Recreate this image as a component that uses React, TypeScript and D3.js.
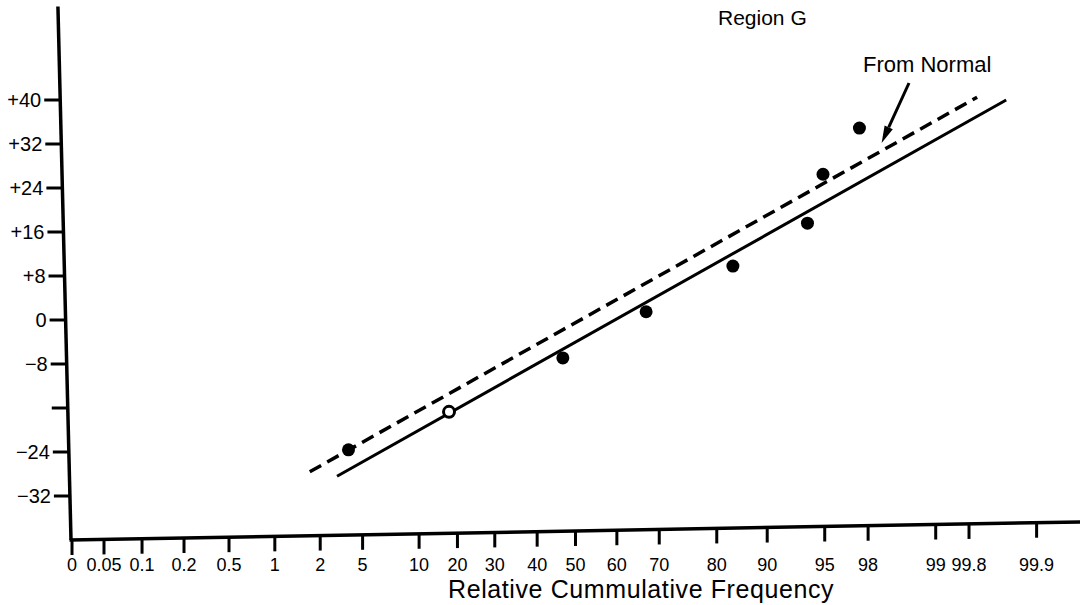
import React from 'react';
import * as d3 from 'd3';

// x axis: probability paper graduation (labels, values, position along the printed axis in % of its length)
const xTickLabels = ['0', '0.05', '0.1', '0.2', '0.5', '1', '2', '5', '10', '20', '30', '40', '50', '60', '70', '80', '90', '95', '98', '99', '99.8', '99.9'];
const xTickValues = [0, 0.05, 0.1, 0.2, 0.5, 1, 2, 5, 10, 20, 30, 40, 50, 60, 70, 80, 90, 95, 98, 99, 99.8, 99.9];
const xPaperUnits = [0.1, 3.27, 7.04, 11.2, 15.66, 20.2, 24.7, 28.9, 34.5, 38.3, 42.0, 46.2, 50.0, 54.1, 58.3, 64.0, 69.0, 74.7, 79.0, 85.7, 89.0, 95.7];

// y axis
const yTickValues = [40, 32, 24, 16, 8, 0, -8, -16, -24, -32];
const yTickLabels = ['+40', '+32', '+24', '+16', '+8', '0', '\u22128', '', '\u221224', '\u221232'];
const yMin = -40;
const yMax = 57;

// observed points (relative cumulative frequency %, value)
const filledP = [4.0, 46.7, 66.9, 83.2, 93.5, 94.85, 97.4];
const filledV = [-23.6, -6.9, 1.5, 9.8, 17.6, 26.5, 34.9];
const openP = [17.8];
const openV = [-16.7];

// fitted line (solid) and line "From Normal" (dashed)
const fitP = [3.19, 99.855];
const fitV = [-28.4, 40.0];
const normalP = [1.77, 99.812];
const normalV = [-27.6, 40.5];

// annotation arrow tip
const arrowTip = { p: 98.2, v: 32.2 };

const W = 1087;
const H = 605;
const originX = 71;
const axisRight = 1080;
const yLean = 0.0245; // hand-drawn axis lean
const xLean = 0.0179;
const font = '"Liberation Sans", Arial, sans-serif';

const App: React.FC = () => {
  const paper = d3.scaleLinear().domain(xTickValues).range(xPaperUnits);
  const paperPx = d3.scaleLinear().domain([0, 100]).range([originX, axisRight]);
  const x = (p: number) => paperPx(paper(p));
  const y = d3.scaleLinear().domain([-40, 40]).range([540, 100]);

  const y0 = y(yMin);
  const yAxisX = (py: number) => originX - (y0 - py) * yLean;
  const xAxisY = (px: number) => y0 - (px - originX) * xLean;

  const line = d3.line<[number, number]>().x(d => x(d[0])).y(d => y(d[1]));
  const fitPath = line(fitP.map((p, i) => [p, fitV[i]]));
  const normalPath = line(normalP.map((p, i) => [p, normalV[i]]));

  // arrow geometry
  const tipX = x(arrowTip.p);
  const tipY = y(arrowTip.v);
  const labelX = 863;
  const labelY = 72;
  const tailX = labelX + 46;
  const tailY = labelY + 11;
  const ang = Math.atan2(tipY - tailY, tipX - tailX);
  const headLen = 17;
  const headW = 4.5;
  const bx = tipX - headLen * Math.cos(ang);
  const by = tipY - headLen * Math.sin(ang);
  const head = [
    [tipX, tipY],
    [bx + headW * Math.sin(ang), by - headW * Math.cos(ang)],
    [bx - headW * Math.sin(ang), by + headW * Math.cos(ang)],
  ].map(d => d.join(',')).join(' ');

  return (
    <svg width={W} height={H} style={{ position: 'absolute', left: 0, top: 0, background: '#fff' }} fontFamily={font}>
      <rect width={W} height={H} fill="#fff" />

      {/* y axis */}
      <line x1={originX} y1={y0} x2={yAxisX(y(yMax))} y2={y(yMax)} stroke="#000" strokeWidth={3.5} />
      {yTickValues.map((v, i) => {
        const ty = y(v);
        const ax = yAxisX(ty);
        return (
          <g key={`yt${i}`}>
            <line x1={ax - 16} y1={ty} x2={ax} y2={ty} stroke="#000" strokeWidth={3} />
            <text x={ax - 19} y={ty} dy="0.36em" textAnchor="end" fontSize={20} fill="#000">{yTickLabels[i]}</text>
          </g>
        );
      })}

      {/* x axis */}
      <line x1={originX - 1.5} y1={y0} x2={axisRight} y2={xAxisY(axisRight)} stroke="#000" strokeWidth={3.5} />
      {xTickValues.map((v, i) => {
        const tx = x(v);
        const ay = xAxisY(tx);
        return (
          <g key={`xt${i}`}>
            <line x1={tx} y1={ay} x2={tx} y2={ay + 15} stroke="#000" strokeWidth={3} />
            <text x={tx} y={571} textAnchor="middle" fontSize={18} fill="#000">{xTickLabels[i]}</text>
          </g>
        );
      })}
      <text x={448} y={598} fontSize={25} letterSpacing={0.6} fill="#000">Relative Cummulative Frequency</text>

      {/* lines */}
      <path d={normalPath || ''} fill="none" stroke="#000" strokeWidth={3.5} strokeDasharray="13 7" />
      <path d={fitPath || ''} fill="none" stroke="#000" strokeWidth={3} />

      {/* points */}
      {filledP.map((p, i) => (
        <circle key={`f${i}`} cx={x(p)} cy={y(filledV[i])} r={6.5} fill="#000" />
      ))}
      {openP.map((p, i) => (
        <circle key={`o${i}`} cx={x(p)} cy={y(openV[i])} r={5.5} fill="#fff" stroke="#000" strokeWidth={3} />
      ))}

      {/* annotations */}
      <text x={718} y={25} fontSize={21} fill="#000">Region G</text>
      <text x={labelX} y={labelY} fontSize={22} fill="#000">From Normal</text>
      <line x1={tailX} y1={tailY} x2={bx} y2={by} stroke="#000" strokeWidth={3} />
      <polygon points={head} fill="#000" />
    </svg>
  );
};

export default App;
